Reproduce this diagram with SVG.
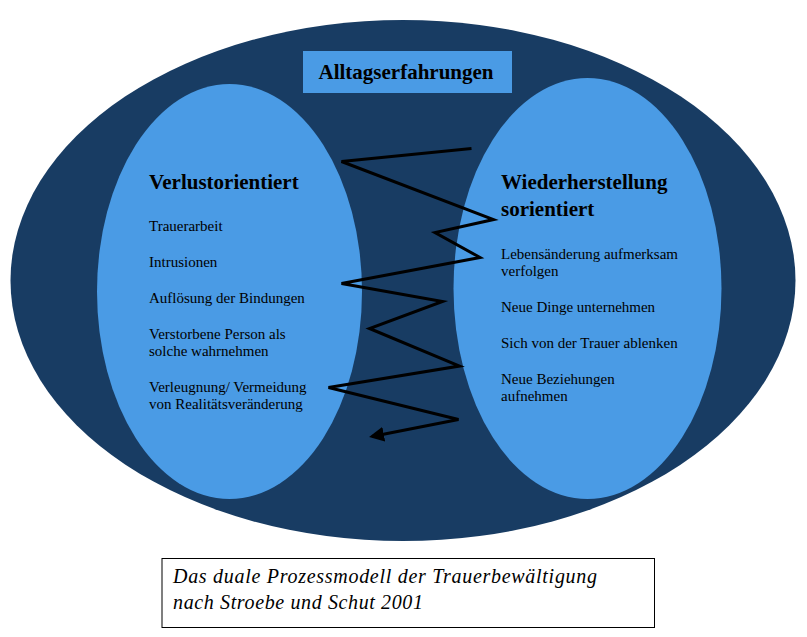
<svg xmlns="http://www.w3.org/2000/svg" width="807" height="637" viewBox="0 0 807 637">
  <defs>
    <style>
      .outer { fill: #183c63; }
      .inner { fill: #4a9be5; }
      .head { font-family: "Liberation Serif", "Times New Roman", serif; font-weight: bold; font-size: 21px; fill: #000; }
      .item { font-family: "Liberation Serif", "Times New Roman", serif; font-size: 15px; fill: #000; }
      .caption { font-family: "Liberation Serif", "Times New Roman", serif; font-style: italic; font-size: 20px; fill: #000; }
      .zigzag { fill: none; stroke: #000; stroke-width: 3; stroke-linejoin: miter; }
    </style>
    <marker id="arrow" viewBox="0 0 10 10" refX="8" refY="5" markerWidth="5" markerHeight="5" orient="auto" markerUnits="strokeWidth">
      <path d="M0,0 L10,5 L0,10 z" fill="#000"/>
    </marker>
  </defs>

  <rect width="807" height="637" fill="#fff"/>

  <!-- everyday life: the surrounding context -->
  <g id="alltag">
    <ellipse class="outer" cx="403" cy="280.5" rx="392.5" ry="260.5"/>
    <rect class="inner" x="303" y="51" width="209" height="42"/>
    <text class="head" x="406" y="78.5" text-anchor="middle" font-size="22">Alltagserfahrungen</text>
  </g>

  <!-- loss-oriented coping -->
  <g id="verlust">
    <ellipse class="inner" cx="229.5" cy="291.5" rx="132.5" ry="207.5"/>
    <text class="head" x="149" y="189">Verlustorientiert</text>
    <text class="item" x="149" y="231">Trauerarbeit</text>
    <text class="item" x="149" y="267">Intrusionen</text>
    <text class="item" x="149" y="303">Auflösung der Bindungen</text>
    <text class="item" x="149" y="339">Verstorbene Person als</text>
    <text class="item" x="149" y="356">solche wahrnehmen</text>
    <text class="item" x="149" y="392">Verleugnung/ Vermeidung</text>
    <text class="item" x="149" y="409">von Realitätsveränderung</text>
  </g>

  <!-- restoration-oriented coping -->
  <g id="wiederherstellung">
    <ellipse class="inner" cx="587.5" cy="288.5" rx="134" ry="210.5"/>
    <text class="head" x="501" y="189">Wiederherstellung</text>
    <text class="head" x="501" y="216">sorientiert</text>
    <text class="item" x="501" y="259">Lebensänderung aufmerksam</text>
    <text class="item" x="501" y="276">verfolgen</text>
    <text class="item" x="501" y="312">Neue Dinge unternehmen</text>
    <text class="item" x="501" y="348">Sich von der Trauer ablenken</text>
    <text class="item" x="501" y="384">Neue Beziehungen</text>
    <text class="item" x="501" y="401">aufnehmen</text>
  </g>

  <!-- oscillation between both orientations -->
  <g id="connectors">
    <polyline class="zigzag" marker-end="url(#arrow)" points="471.5,148.5 341.5,161.5 493.5,219.5 435,232.5 480,257.5 341.5,283.5 442.5,301.5 369.5,328.5 459.5,366 328.5,387.5 458.5,419.5 372,436.5"/>
  </g>

  <g id="caption">
    <rect x="162" y="558.5" width="492.5" height="69" fill="#fff" stroke="#000" stroke-width="1"/>
    <text class="caption" x="173" y="583" textLength="424" lengthAdjust="spacing">Das duale Prozessmodell der Trauerbewältigung</text>
    <text class="caption" x="173" y="608.5" textLength="250" lengthAdjust="spacing">nach Stroebe und Schut 2001</text>
  </g>
</svg>
